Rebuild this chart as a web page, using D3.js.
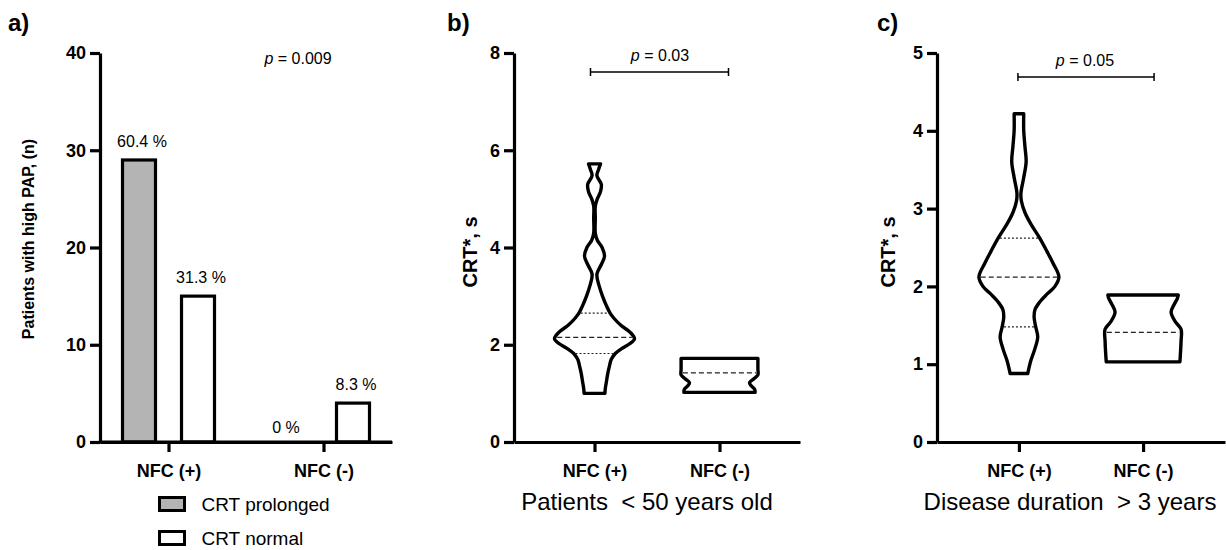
<!DOCTYPE html>
<html>
<head>
<meta charset="utf-8">
<script src="https://cdn.jsdelivr.net/npm/d3@7"></script>
<style>
  body { margin: 0; background: #fff; }
  svg text { font-family: "Liberation Sans", Arial, sans-serif; fill: #000; }
</style>
</head>
<body>
<svg id="vis" width="1226" height="550"></svg>
<script>
// ---- panel a data ----
const barCategories = ["NFC (+)", "NFC (-)"];
const barSeries = ["CRT prolonged", "CRT normal"];
const prolongedCounts = [29, 0];
const normalCounts = [15, 4];
const prolongedPct = ["60.4 %", "0 %"];
const normalPct = ["31.3 %", "8.3 %"];
const barTicks = [0, 10, 20, 30, 40];

// ---- panel b data (patients < 50 years old) ----
// violin outline: [CRT* value, relative density]
const youngPlusProfile = [
  [1.0, 0.26], [1.1, 0.27], [1.25, 0.3], [1.4, 0.33], [1.55, 0.37], [1.7, 0.42],
  [1.82, 0.52], [1.92, 0.68], [2.02, 0.88], [2.12, 1.0], [2.25, 0.9], [2.4, 0.66],
  [2.55, 0.48], [2.65, 0.39], [2.8, 0.3], [3.0, 0.2], [3.2, 0.12], [3.45, 0.06],
  [3.65, 0.17], [3.82, 0.25], [4.0, 0.19], [4.15, 0.07], [4.3, 0.02], [4.6, 0.02],
  [4.85, 0.02], [5.0, 0.07], [5.15, 0.15], [5.3, 0.17], [5.48, 0.06], [5.6, 0.1],
  [5.72, 0.15]
];
const youngMinusProfile = [
  [1.02, 0.89], [1.08, 0.88], [1.15, 0.8], [1.22, 0.75], [1.3, 0.86], [1.38, 0.96],
  [1.5, 0.96], [1.62, 0.96], [1.72, 0.96]
];
const youngMedians = [2.15, 1.42];
const youngQ1 = [1.82, null];
const youngQ3 = [2.65, null];
const youngTicks = [0, 2, 4, 6, 8];

// ---- panel c data (disease duration > 3 years) ----
const durationPlusProfile = [
  [0.88, 0.22], [0.95, 0.25], [1.05, 0.3], [1.2, 0.4], [1.35, 0.47], [1.48, 0.42],
  [1.6, 0.38], [1.7, 0.4], [1.8, 0.52], [1.9, 0.7], [2.0, 0.9], [2.12, 1.0],
  [2.3, 0.85], [2.45, 0.7], [2.62, 0.52], [2.8, 0.3], [2.95, 0.15], [3.1, 0.06],
  [3.2, 0.05], [3.4, 0.12], [3.6, 0.18], [3.8, 0.15], [4.0, 0.12], [4.22, 0.12]
];
const durationMinusProfile = [
  [1.03, 0.92], [1.1, 0.93], [1.3, 0.95], [1.45, 0.95], [1.55, 0.8], [1.67, 0.7],
  [1.77, 0.78], [1.85, 0.86], [1.89, 0.88]
];
const durationMedians = [2.12, 1.41];
const durationQ1 = [1.48, null];
const durationQ3 = [2.62, null];
const durationTicks = [0, 1, 2, 3, 4, 5];

const svg = d3.select("#vis");
const Y_TOP = 53, Y_BOTTOM = 442;

function styleAxis(g) {
  g.selectAll("path.domain").attr("stroke", "#000").attr("stroke-width", 3.2);
  g.selectAll(".tick line").attr("stroke", "#000").attr("stroke-width", 3.2);
  g.selectAll(".tick text")
    .style("font-family", "'Liberation Sans', Arial, sans-serif")
    .style("font-weight", "bold")
    .style("font-size", "18px")
    .attr("fill", "#000");
}

function drawAxes(left, right, pad, yDomain, ticks, yTitle, titleX, titleY) {
  const y = d3.scaleLinear().domain(yDomain).range([Y_BOTTOM, Y_TOP]);
  const x = d3.scalePoint().domain(barCategories).range([left, right]).padding(pad);

  const gy = svg.append("g").attr("transform", `translate(${left},0)`)
    .call(d3.axisLeft(y).tickValues(ticks).tickFormat(d3.format("d"))
      .tickSize(10).tickSizeOuter(0).tickPadding(4));
  styleAxis(gy);

  const gx = svg.append("g").attr("transform", `translate(0,${Y_BOTTOM})`)
    .call(d3.axisBottom(x).tickSize(10).tickSizeOuter(0).tickPadding(12));
  styleAxis(gx);

  svg.append("text")
    .attr("transform", `translate(${titleX},${titleY}) rotate(-90)`)
    .attr("text-anchor", "middle")
    .style("font-weight", "bold")
    .style("font-size", yTitle.size)
    .text(yTitle.text);
  return {x: x, y: y};
}

function panelLetter(x, label) {
  svg.append("text").attr("x", x).attr("y", 31)
    .style("font-weight", "bold").style("font-size", "24px").text(label);
}

function pValue(cx, baseline, value) {
  const t = svg.append("text").attr("x", cx).attr("y", baseline)
    .attr("text-anchor", "middle").style("font-size", "16px");
  t.append("tspan").style("font-style", "italic").text("p");
  t.append("tspan").text(" = " + value);
}

// ================= panel a =================
panelLetter(8, "a)");
const a = drawAxes(100, 392, 0.442, [0, 40], barTicks,
  {text: "Patients with high PAP, (n)", size: "16px"}, 34, 239);

const sub = d3.scaleBand().domain(barSeries).range([-47.5, 47.5]).paddingInner(0.39);
const barFill = {"CRT prolonged": "#b4b4b4", "CRT normal": "#ffffff"};
const barRows = [];
barCategories.forEach(function(c, i) {
  barRows.push({cat: c, series: barSeries[0], value: prolongedCounts[i], label: prolongedPct[i]});
  barRows.push({cat: c, series: barSeries[1], value: normalCounts[i], label: normalPct[i]});
});

svg.append("g").selectAll("rect")
  .data(barRows.filter(d => d.value > 0))
  .enter().append("rect")
  .attr("x", d => a.x(d.cat) + sub(d.series) + 1.5)
  .attr("width", sub.bandwidth() - 3)
  .attr("y", d => a.y(d.value))
  .attr("height", d => a.y(0) - a.y(d.value))
  .attr("fill", d => barFill[d.series])
  .attr("stroke", "#000").attr("stroke-width", 3.2);

svg.append("g").selectAll("text")
  .data(barRows)
  .enter().append("text")
  .attr("x", d => a.x(d.cat) + sub(d.series) + sub.bandwidth() / 2 + (d.value > 0 ? 3 : -8))
  .attr("y", d => a.y(d.value) - (d.value > 0 ? 13 : 9))
  .attr("text-anchor", "middle")
  .style("font-size", "16px")
  .text(d => d.label);

// redraw x axis line on top of bar bottoms
svg.append("line").attr("x1", 100).attr("x2", 392).attr("y1", Y_BOTTOM).attr("y2", Y_BOTTOM)
  .attr("stroke", "#000").attr("stroke-width", 3.2);

pValue(298, 64, "0.009");

// legend
const legend = svg.append("g").selectAll("g").data(barSeries).enter().append("g")
  .attr("transform", (d, i) => `translate(159.5,${497.5 + i * 34})`);
legend.append("rect").attr("width", 25).attr("height", 13)
  .attr("fill", d => barFill[d]).attr("stroke", "#000").attr("stroke-width", 3);
legend.append("text").attr("x", 42).attr("y", 13.5)
  .style("font-size", "19px").text(d => d);

// ================= violins =================
const halfWidth = d3.scaleLinear().domain([0, 1]).range([0, 40]);

function densityAt(profile, v) {
  for (let i = 1; i < profile.length; i++) {
    if (v <= profile[i][0]) {
      const p0 = profile[i - 1], p1 = profile[i];
      const t = (v - p0[0]) / (p1[0] - p0[0]);
      return p0[1] + t * (p1[1] - p0[1]);
    }
  }
  return profile[profile.length - 1][1];
}

function drawViolin(sc, cat, profile, median, q1, q3) {
  const cx = sc.x(cat);
  const area = d3.area()
    .curve(d3.curveCatmullRom.alpha(0.5))
    .y(d => sc.y(d[0]))
    .x0(d => cx - halfWidth(d[1]))
    .x1(d => cx + halfWidth(d[1]));
  svg.append("path").datum(profile)
    .attr("d", area)
    .attr("fill", "#fff").attr("stroke", "#000")
    .attr("stroke-width", 3.4).attr("stroke-linejoin", "round");

  const lines = [];
  if (q1 != null) lines.push({v: q1, dash: "2,2", w: 1.2});
  if (q3 != null) lines.push({v: q3, dash: "2,2", w: 1.2});
  lines.push({v: median, dash: "5,3", w: 1.2});
  lines.forEach(function(l) {
    const hw = halfWidth(densityAt(profile, l.v)) - 1.8;
    svg.append("line")
      .attr("x1", cx - hw).attr("x2", cx + hw)
      .attr("y1", sc.y(l.v)).attr("y2", sc.y(l.v))
      .attr("stroke", "#222").attr("stroke-width", l.w)
      .attr("stroke-dasharray", l.dash);
  });
}

function bracket(x1, x2, yPos) {
  const g = svg.append("g").attr("stroke", "#000").attr("stroke-width", 1.5);
  g.append("line").attr("x1", x1).attr("x2", x2).attr("y1", yPos).attr("y2", yPos);
  g.append("line").attr("x1", x1).attr("x2", x1).attr("y1", yPos - 4).attr("y2", yPos + 4);
  g.append("line").attr("x1", x2).attr("x2", x2).attr("y1", yPos - 4).attr("y2", yPos + 4);
}

// ================= panel b =================
panelLetter(447, "b)");
const b = drawAxes(514, 800, 0.644, [0, 8], youngTicks, {text: "CRT*, s", size: "20px"}, 477, 252);
drawViolin(b, barCategories[0], youngPlusProfile, youngMedians[0], youngQ1[0], youngQ3[0]);
drawViolin(b, barCategories[1], youngMinusProfile, youngMedians[1], youngQ1[1], youngQ3[1]);
bracket(b.x(barCategories[0]) - 4, b.x(barCategories[1]) + 9, 72);
pValue(660, 61, "0.03");
svg.append("text").attr("x", 647).attr("y", 510).attr("text-anchor", "middle")
  .style("font-size", "24px").attr("xml:space", "preserve").text("Patients  < 50 years old");

// ================= panel c =================
panelLetter(877, "c)");
const c = drawAxes(937, 1225, 0.66, [0, 5], durationTicks, {text: "CRT*, s", size: "20px"}, 895, 252);
drawViolin(c, barCategories[0], durationPlusProfile, durationMedians[0], durationQ1[0], durationQ3[0]);
drawViolin(c, barCategories[1], durationMinusProfile, durationMedians[1], durationQ1[1], durationQ3[1]);
bracket(c.x(barCategories[0]) - 1, c.x(barCategories[1]) + 11, 77);
pValue(1085, 66, "0.05");
svg.append("text").attr("x", 1070).attr("y", 510).attr("text-anchor", "middle")
  .style("font-size", "24px").attr("xml:space", "preserve").text("Disease duration  > 3 years");
</script>
</body>
</html>
